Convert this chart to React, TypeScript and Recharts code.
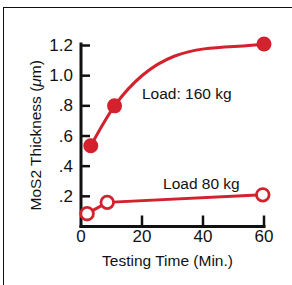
import React from "react"
import { LineChart, Line, XAxis, YAxis, ReferenceDot } from "recharts"

// time in minutes, thickness in micrometres
const time160 = [3.2, 11, 60]
const thick160 = [0.535, 0.8, 1.21]
const time80 = [2, 8.6, 59.6]
const thick80 = [0.085, 0.16, 0.21]

const xTicks = [0, 20, 40, 60]
const yTicks = [0.2, 0.4, 0.6, 0.8, 1.0, 1.2]
const yTickLabels = [".2", ".4", ".6", ".8", "1.0", "1.2"]

const load160 = time160.map((t, i) => ({ t, v: thick160[i] }))
const load80 = time80.map((t, i) => ({ t, v: thick80[i] }))

const RED = "#d3212d"
const INK = "#111"
const FONT = "'Liberation Sans', Arial, Helvetica, sans-serif"

// cubic hermite through the points: interior slope is a weighted mean of the
// neighbouring secants (scaled by a tension), end slopes kept at least s/3
function smoothCurve(context: any) {
    const tension = 0.92
    let xs: number[] = []
    let ys: number[] = []
    return {
        areaStart() {},
        areaEnd() {},
        lineStart() {
            xs = []
            ys = []
        },
        point(x: number, y: number) {
            xs.push(+x)
            ys.push(+y)
        },
        lineEnd() {
            const n = xs.length
            if (!n) return
            context.moveTo(xs[0], ys[0])
            if (n < 3) {
                for (let i = 1; i < n; i++) context.lineTo(xs[i], ys[i])
                return
            }
            const h: number[] = []
            const s: number[] = []
            for (let i = 0; i < n - 1; i++) {
                h[i] = xs[i + 1] - xs[i]
                s[i] = (ys[i + 1] - ys[i]) / h[i]
            }
            const m: number[] = new Array(n)
            for (let i = 1; i < n - 1; i++) {
                m[i] = tension * (s[i - 1] * h[i] + s[i] * h[i - 1]) / (h[i - 1] + h[i])
            }
            const endSlope = (sec: number, inner: number) => {
                const e = (3 * sec - inner) / 2
                return Math.abs(e) < Math.abs(sec) / 3 || e * sec < 0 ? sec / 3 : e
            }
            m[0] = endSlope(s[0], m[1])
            m[n - 1] = endSlope(s[n - 2], m[n - 2])
            for (let i = 0; i < n - 1; i++) {
                context.bezierCurveTo(
                    xs[i] + h[i] / 3, ys[i] + (m[i] * h[i]) / 3,
                    xs[i + 1] - h[i] / 3, ys[i + 1] - (m[i + 1] * h[i]) / 3,
                    xs[i + 1], ys[i + 1]
                )
            }
        },
    }
}

const YTick = ({ x, y, payload }: any) => {
    const idx = yTicks.findIndex((v) => Math.abs(v - payload.value) < 1e-6)
    return (
        <g>
            <line x1={x} x2={x + 9} y1={y} y2={y} stroke={INK} strokeWidth={2.5} />
            <text x={x - 8} y={y + 5.5} textAnchor="end" fontSize={17} fontFamily={FONT} fill={INK}>
                {idx >= 0 ? yTickLabels[idx] : payload.value}
            </text>
        </g>
    )
}

const XTick = ({ x, y, payload }: any) => (
    <g>
        {payload.value > 0 && <line x1={x} x2={x} y1={y} y2={y - 11} stroke={INK} strokeWidth={2.5} />}
        <text x={x} y={y + 15.5} textAnchor="middle" fontSize={17} fontFamily={FONT} fill={INK}>
            {payload.value}
        </text>
    </g>
)

const YTitle = ({ viewBox }: any) => {
    const cx = viewBox.x + 7.5
    const cy = viewBox.y + viewBox.height / 2
    return (
        <text
            x={cx}
            y={cy}
            transform={`rotate(-90 ${cx} ${cy})`}
            textAnchor="middle"
            dy={5.5}
            fontSize={15.5}
            fontFamily={FONT}
            fill={INK}
        >
            MoS2 Thickness (<tspan fontStyle="italic">μ</tspan>m)
        </text>
    )
}

const XTitle = ({ viewBox }: any) => (
    <text
        x={viewBox.x + viewBox.width / 2 - 5}
        y={266}
        textAnchor="middle"
        fontSize={15.5}
        fontFamily={FONT}
        fill={INK}
    >
        Testing Time (Min.)
    </text>
)

const note = (text: string) => (props: any) => (
    <text x={props.cx} y={props.cy} fontSize={15.5} fontFamily={FONT} fill={INK}>
        {text}
    </text>
)

export default function App() {
    return (
        <div style={{ position: "absolute", left: 0, top: 0, width: 292, height: 285, background: "#fff", overflow: "hidden" }}>
            <div
                style={{
                    position: "absolute",
                    left: 3,
                    top: 7,
                    width: 289,
                    height: 278,
                    boxSizing: "border-box",
                    borderTop: "1.5px solid #111",
                    borderLeft: "1.5px solid #111",
                }}
            />
            <div style={{ position: "absolute", left: 0, top: 0 }}>
                <LineChart width={292} height={285} margin={{ top: 44, right: 28, bottom: 28.5, left: 28 }}>
                    <XAxis
                        type="number"
                        dataKey="t"
                        domain={[0, 60]}
                        ticks={xTicks}
                        interval={0}
                        height={30}
                        tickSize={0}
                        tickMargin={0}
                        tickLine={false}
                        tick={<XTick />}
                        axisLine={{ stroke: INK, strokeWidth: 3, strokeLinecap: "square" }}
                        label={{ content: XTitle }}
                    />
                    <YAxis
                        type="number"
                        dataKey="v"
                        domain={[0, 1.2]}
                        ticks={yTicks}
                        interval={0}
                        width={53}
                        tickSize={0}
                        tickMargin={0}
                        tickLine={false}
                        tick={<YTick />}
                        axisLine={{ stroke: INK, strokeWidth: 3, strokeLinecap: "square" }}
                        label={{ content: YTitle }}
                    />
                    <Line
                        data={load80}
                        dataKey="v"
                        type="linear"
                        stroke={RED}
                        strokeWidth={3}
                        dot={{ r: 6.3, fill: "#fff", stroke: RED, strokeWidth: 2.8 }}
                        activeDot={false}
                        isAnimationActive={false}
                    />
                    <Line
                        data={load160}
                        dataKey="v"
                        type={smoothCurve as any}
                        stroke={RED}
                        strokeWidth={3}
                        dot={{ r: 7.5, fill: RED, stroke: RED, strokeWidth: 0 }}
                        activeDot={false}
                        isAnimationActive={false}
                    />
                    <ReferenceDot x={20} y={0.845} r={0} shape={note("Load: 160 kg")} />
                    <ReferenceDot x={26.9} y={0.25} r={0} shape={note("Load 80 kg")} />
                </LineChart>
            </div>
        </div>
    )
}
